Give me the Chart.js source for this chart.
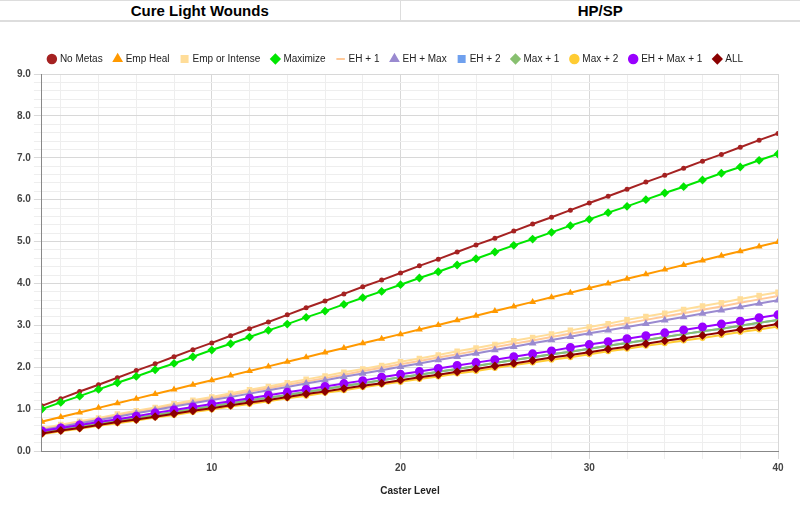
<!DOCTYPE html><html><head><script src="https://cdn.jsdelivr.net/npm/chart.js@4"></script>
<style>body{margin:0;background:#fff;font-family:Arial,"Liberation Sans",sans-serif}
#hdr{display:flex;height:19px;border-top:1px solid #ddd;border-bottom:2px solid #ddd;font-weight:bold;font-size:15px;line-height:19px}
#hdr div{flex:1;text-align:center}#hdr div:first-child{border-right:1px solid #ddd}
#wrap{width:800px;height:493px}</style></head><body>
<div id="hdr"><div>Cure Light Wounds</div><div>HP/SP</div></div>
<div id="wrap"><canvas id="c"></canvas></div>
<script>
const levels=Array.from({length:40},(_,i)=>i+1);
const noMetas=[1.08,1.25,1.42,1.58,1.75,1.92,2.08,2.25,2.42,2.58,2.75,2.92,3.08,3.25,3.42,3.58,3.75,3.92,4.08,4.25,4.42,4.58,4.75,4.92,5.08,5.25,5.42,5.58,5.75,5.92,6.08,6.25,6.42,6.58,6.75,6.92,7.08,7.25,7.42,7.58];
const empHeal=[0.70,0.81,0.92,1.03,1.14,1.25,1.36,1.47,1.58,1.69,1.80,1.91,2.02,2.13,2.24,2.35,2.46,2.57,2.68,2.79,2.90,3.01,3.12,3.23,3.34,3.45,3.56,3.67,3.78,3.89,4.00,4.11,4.22,4.33,4.44,4.55,4.66,4.77,4.88,4.99];
const empIntense=[0.54,0.63,0.71,0.79,0.88,0.96,1.04,1.13,1.21,1.29,1.38,1.46,1.54,1.63,1.71,1.79,1.88,1.96,2.04,2.13,2.21,2.29,2.38,2.46,2.54,2.63,2.71,2.79,2.88,2.96,3.04,3.13,3.21,3.29,3.38,3.46,3.54,3.63,3.71,3.79];
const maximize=[1.00,1.16,1.31,1.47,1.63,1.78,1.94,2.09,2.25,2.41,2.56,2.72,2.88,3.03,3.19,3.34,3.50,3.66,3.81,3.97,4.13,4.28,4.44,4.59,4.75,4.91,5.06,5.22,5.38,5.53,5.69,5.84,6.00,6.16,6.31,6.47,6.63,6.78,6.94,7.09];
const eh1=[0.52,0.60,0.68,0.76,0.85,0.93,1.01,1.09,1.17,1.25,1.34,1.42,1.50,1.58,1.66,1.74,1.82,1.91,1.99,2.07,2.15,2.23,2.31,2.39,2.48,2.56,2.64,2.72,2.80,2.88,2.97,3.05,3.13,3.21,3.29,3.37,3.45,3.54,3.62,3.70];
const ehMax=[0.50,0.58,0.66,0.74,0.82,0.90,0.98,1.06,1.14,1.22,1.29,1.37,1.45,1.53,1.61,1.69,1.77,1.85,1.93,2.01,2.09,2.17,2.25,2.33,2.41,2.49,2.57,2.65,2.73,2.81,2.88,2.96,3.04,3.12,3.20,3.28,3.36,3.44,3.52,3.60];
const eh2=[0.45,0.52,0.59,0.66,0.72,0.79,0.86,0.93,1.00,1.07,1.14,1.21,1.27,1.34,1.41,1.48,1.55,1.62,1.69,1.76,1.82,1.89,1.96,2.03,2.10,2.17,2.24,2.31,2.37,2.44,2.51,2.58,2.65,2.72,2.79,2.86,2.92,2.99,3.06,3.13];
const max1=[0.45,0.52,0.59,0.66,0.72,0.79,0.86,0.93,1.00,1.07,1.14,1.21,1.27,1.34,1.41,1.48,1.55,1.62,1.69,1.76,1.82,1.89,1.96,2.03,2.10,2.17,2.24,2.31,2.37,2.44,2.51,2.58,2.65,2.72,2.79,2.86,2.92,2.99,3.06,3.13];
const max2=[0.40,0.47,0.53,0.60,0.66,0.73,0.80,0.86,0.93,0.99,1.06,1.12,1.19,1.26,1.32,1.39,1.45,1.52,1.59,1.65,1.72,1.78,1.85,1.91,1.98,2.05,2.11,2.18,2.24,2.31,2.38,2.44,2.51,2.57,2.64,2.70,2.77,2.84,2.90,2.97];
const ehMax1=[0.48,0.55,0.62,0.69,0.76,0.83,0.91,0.98,1.05,1.12,1.19,1.26,1.33,1.40,1.47,1.54,1.61,1.68,1.76,1.83,1.90,1.97,2.04,2.11,2.18,2.25,2.32,2.39,2.47,2.54,2.61,2.68,2.75,2.82,2.89,2.96,3.03,3.10,3.18,3.25];
const all=[0.42,0.49,0.55,0.62,0.69,0.75,0.82,0.89,0.96,1.02,1.09,1.16,1.22,1.29,1.36,1.42,1.49,1.56,1.62,1.69,1.76,1.82,1.89,1.96,2.03,2.09,2.16,2.23,2.29,2.36,2.43,2.49,2.56,2.63,2.69,2.76,2.83,2.90,2.96,3.03];
const series=[
["No Metas",noMetas,"#a52222","circle",1.5],
["Emp Heal",empHeal,"#ff9900","triangle",2],
["Emp or Intense",empIntense,"#ffdd99","rect",2.5],
["Maximize",maximize,"#00e600","rectRot",3],
["EH + 1",eh1,"#ffc999","line",2],
["EH + Max",ehMax,"#9a8ad0","triangle",2.5],
["EH + 2",eh2,"#6fa0ee","rect",2],
["Max + 1",max1,"#88c070","rectRot",2],
["Max + 2",max2,"#ffcc33","circle",2],
["EH + Max + 1",ehMax1,"#9900ff","circle",3.5],
["ALL",all,"#8b0000","rectRot",3]];
new Chart(document.getElementById('c'),{type:'line',
data:{datasets:series.map((s,i)=>({label:s[0],data:levels.map((x,j)=>({x,y:s[1][j]})),borderColor:s[2],backgroundColor:s[2],pointStyle:s[3],pointRadius:s[4],borderWidth:2,order:series.length-i}))},
options:{responsive:true,maintainAspectRatio:false,animation:false,
layout:{padding:{left:14,right:22,top:20,bottom:14}},
plugins:{legend:{labels:{usePointStyle:true,boxWidth:6,boxHeight:6,font:{size:10,family:'Arial'},color:'#222',padding:12,sort:(a,b)=>a.datasetIndex-b.datasetIndex}},tooltip:{enabled:false}},
scales:{
x:{type:'linear',min:1,max:40,
afterBuildTicks:a=>{a.ticks=[];for(let v=2;v<=40;v+=2)a.ticks.push({value:v});},
ticks:{autoSkip:false,maxRotation:0,callback:v=>v%10===0?v:'',font:{size:10,weight:'bold',family:'Arial'},color:'#444'},
grid:{color:c=>c.tick&&c.tick.value%10===0?'#d8d8d8':'#eeeeee'},border:{color:'#888'},
title:{display:true,text:'Caster Level',font:{size:10,weight:'bold',family:'Arial'},color:'#222',padding:{top:8}}},
y:{min:0,max:9,
afterBuildTicks:a=>{a.ticks=[];for(let i=0;i<=45;i++)a.ticks.push({value:i/5});},
ticks:{autoSkip:false,callback:v=>Math.abs(v-Math.round(v))<1e-6?v.toFixed(1):'',font:{size:10,weight:'bold',family:'Arial'},color:'#444'},
grid:{color:c=>c.tick&&Math.abs(c.tick.value-Math.round(c.tick.value))<1e-6?'#d8d8d8':'#eeeeee'},border:{color:'#888'}}}}});
</script></body></html>
